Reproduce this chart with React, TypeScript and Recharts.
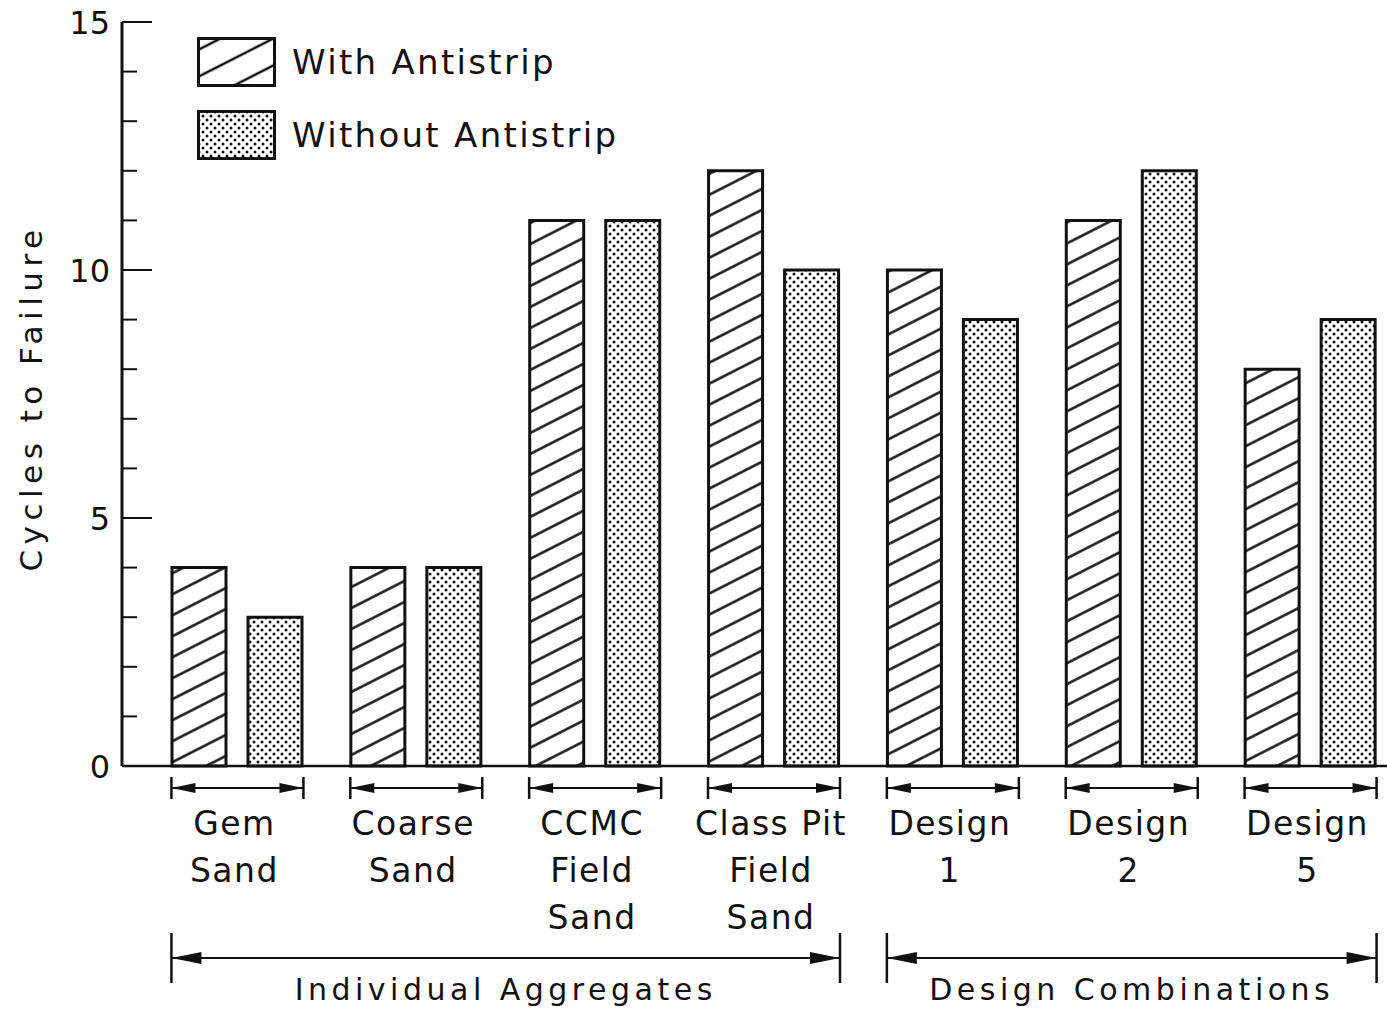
import React from 'react';
import { BarChart, Bar, XAxis, YAxis, Legend, ReferenceLine } from 'recharts';

// ---------- data ----------
const categories = [
  'Gem Sand',
  'Coarse Sand',
  'CCMC Field Sand',
  'Class Pit Field Sand',
  'Design 1',
  'Design 2',
  'Design 5',
];
const categoryLines = [
  ['Gem', 'Sand'],
  ['Coarse', 'Sand'],
  ['CCMC', 'Field', 'Sand'],
  ['Class Pit', 'Field', 'Sand'],
  ['Design', '1'],
  ['Design', '2'],
  ['Design', '5'],
];
const withAntistrip = [4, 4, 11, 12, 10, 11, 8];
const withoutAntistrip = [3, 4, 11, 10, 9, 12, 9];
const yTicks = [0, 1, 2, 3, 4, 5, 6, 7, 8, 9, 10, 11, 12, 13, 14, 15];
const yTickLabels = [0, 5, 10, 15];
const groupLabels = ['Individual Aggregates', 'Design Combinations'];
const groupFrom = ['Gem Sand', 'Design 1'];
const groupTo = ['Class Pit Field Sand', 'Design 5'];
const seriesNames = ['With Antistrip', 'Without Antistrip'];

const data = categories.map((c, i) => ({
  cat: c,
  withA: withAntistrip[i],
  withoutA: withoutAntistrip[i],
}));

// ---------- layout / style ----------
const INK = '#111';
const FONT = '"DejaVu Sans", Verdana, sans-serif';
const CHART_W = 1400;
const CHART_H = 1012;
const AXIS_W = 122;
const MARGIN_TOP = 22;
const X_AXIS_H = 246;
const AXIS_X = AXIS_W;
const AXIS_Y = CHART_H - X_AXIS_H;
const HALF = 66;

const YTick = (props: any) => {
  const { y, payload } = props;
  const v = payload.value;
  const major = yTickLabels.includes(v);
  return (
    <g>
      <line x1={AXIS_X} x2={AXIS_X + (major ? 30 : 15)} y1={y} y2={y} stroke={INK} strokeWidth={2} />
      {major && (
        <text
          x={AXIS_X - 12}
          y={y}
          dy="0.36em"
          textAnchor="end"
          fontFamily={FONT}
          fontSize={32}
          fill={INK}
        >
          {v}
        </text>
      )}
    </g>
  );
};

const XTick = (props: any) => {
  const { x, payload } = props;
  const idx = categories.indexOf(payload.value);
  const lines = categoryLines[idx] || [];
  const yl = AXIS_Y + 22;
  const l = x - HALF;
  const r = x + HALF;
  return (
    <g>
      <line x1={l} x2={r} y1={yl} y2={yl} stroke={INK} strokeWidth={2} />
      <line x1={l} x2={l} y1={yl - 11} y2={yl + 11} stroke={INK} strokeWidth={2.5} />
      <line x1={r} x2={r} y1={yl - 11} y2={yl + 11} stroke={INK} strokeWidth={2.5} />
      <polygon points={`${l},${yl} ${l + 24},${yl - 5} ${l + 24},${yl + 5}`} fill={INK} />
      <polygon points={`${r},${yl} ${r - 24},${yl - 5} ${r - 24},${yl + 5}`} fill={INK} />
      {lines.map((t, i) => (
        <text
          key={i}
          x={x - 3}
          y={AXIS_Y + 69 + i * 47}
          textAnchor="middle"
          fontFamily={FONT}
          fontSize={33}
          letterSpacing={1.5}
          fill={INK}
        >
          {t}
        </text>
      ))}
    </g>
  );
};

const makeBracket = (label: string) => (p: any) => {
  const { x1, x2, y1 } = p;
  const l = x1 - HALF;
  const r = x2 + HALF;
  const y = y1 + 192;
  return (
    <g>
      <line x1={l} x2={r} y1={y} y2={y} stroke={INK} strokeWidth={2} />
      <line x1={l} x2={l} y1={y - 25} y2={y + 25} stroke={INK} strokeWidth={2.5} />
      <line x1={r} x2={r} y1={y - 25} y2={y + 25} stroke={INK} strokeWidth={2.5} />
      <polygon points={`${l},${y} ${l + 30},${y - 6} ${l + 30},${y + 6}`} fill={INK} />
      <polygon points={`${r},${y} ${r - 30},${y - 6} ${r - 30},${y + 6}`} fill={INK} />
      <text
        x={(l + r) / 2}
        y={y + 42}
        textAnchor="middle"
        fontFamily={FONT}
        fontSize={30}
        letterSpacing={4.5}
        fill={INK}
      >
        {label}
      </text>
    </g>
  );
};

const LegendContent = (props: any) => {
  const payload = props.payload || [];
  return (
    <div style={{ display: 'flex', flexDirection: 'column', gap: 23 }}>
      {payload.map((e: any, i: number) => (
        <div key={i} style={{ display: 'flex', alignItems: 'center', height: 50 }}>
          <svg width={79} height={50} style={{ display: 'block' }}>
            <defs>
              <pattern
                id={`lg-hatch-${i}`}
                patternUnits="userSpaceOnUse"
                width={200}
                height={24}
                patternTransform="rotate(-27)"
              >
                <line x1={0} x2={200} y1={12} y2={12} stroke={INK} strokeWidth={2.6} />
              </pattern>
              <pattern id={`lg-dots-${i}`} patternUnits="userSpaceOnUse" width={8} height={8}>
                <circle cx={2} cy={2} r={1.5} fill={INK} />
                <circle cx={6} cy={6} r={1.5} fill={INK} />
              </pattern>
            </defs>
            <rect
              x={1.5}
              y={1.5}
              width={76}
              height={47}
              fill={i === 0 ? `url(#lg-hatch-${i})` : `url(#lg-dots-${i})`}
              stroke={INK}
              strokeWidth={3}
            />
          </svg>
          <span
            style={{
              marginLeft: 16,
              fontFamily: FONT,
              fontSize: 34,
              letterSpacing: 2.3,
              color: INK,
              whiteSpace: 'nowrap',
            }}
          >
            {e.value}
          </span>
        </div>
      ))}
    </div>
  );
};

const YLabel = (props: any) => {
  const vb = props.viewBox || { x: 0, y: MARGIN_TOP, width: AXIS_W, height: AXIS_Y - MARGIN_TOP };
  const cx = 31;
  const cy = vb.y + vb.height / 2 + 4;
  return (
    <text
      x={cx}
      y={cy}
      transform={`rotate(-90, ${cx}, ${cy})`}
      textAnchor="middle"
      dominantBaseline="central"
      fontFamily={FONT}
      fontSize={31}
      letterSpacing={5.5}
      fill={INK}
    >
      Cycles to Failure
    </text>
  );
};

export default function App() {
  return (
    <div style={{ position: 'fixed', left: 0, top: 0, width: CHART_W, height: CHART_H, background: '#fff' }}>
      <BarChart
        width={CHART_W}
        height={CHART_H}
        data={data}
        margin={{ top: MARGIN_TOP, right: 0, bottom: 0, left: 0 }}
        barCategoryGap={24}
        barGap={22}
      >
        <defs>
          <pattern
            id="hatch"
            patternUnits="userSpaceOnUse"
            width={400}
            height={18.7}
            patternTransform="rotate(-27)"
          >
            <line x1={0} x2={400} y1={9.35} y2={9.35} stroke={INK} strokeWidth={2.4} />
          </pattern>
          <pattern id="dots" patternUnits="userSpaceOnUse" width={8} height={8}>
            <circle cx={2} cy={2} r={1.5} fill={INK} />
            <circle cx={6} cy={6} r={1.5} fill={INK} />
          </pattern>
        </defs>
        <XAxis
          dataKey="cat"
          height={X_AXIS_H}
          padding={{ left: 26, right: 0 }}
          interval={0}
          tickLine={false}
          axisLine={{ stroke: INK, strokeWidth: 2.5 }}
          tick={<XTick />}
        />
        <YAxis
          width={AXIS_W}
          domain={[0, 15]}
          ticks={yTicks}
          interval={0}
          allowDecimals={false}
          tickLine={false}
          axisLine={{ stroke: INK, strokeWidth: 3 }}
          tick={<YTick />}
          label={<YLabel />}
        />
        <Legend
          layout="horizontal"
          verticalAlign="middle"
          align="center"
          wrapperStyle={{ left: 197, top: 37, width: 500, height: 'auto' }}
          content={<LegendContent />}
        />
        <Bar
          dataKey="withA"
          name={seriesNames[0]}
          fill="url(#hatch)"
          stroke={INK}
          strokeWidth={3}
          isAnimationActive={false}
        />
        <Bar
          dataKey="withoutA"
          name={seriesNames[1]}
          fill="url(#dots)"
          stroke={INK}
          strokeWidth={3}
          isAnimationActive={false}
        />
        {groupLabels.map((g, i) => (
          <ReferenceLine
            key={g}
            segment={[
              { x: groupFrom[i], y: 0 },
              { x: groupTo[i], y: 0 },
            ]}
            ifOverflow="visible"
            shape={makeBracket(g)}
          />
        ))}
      </BarChart>
    </div>
  );
}
